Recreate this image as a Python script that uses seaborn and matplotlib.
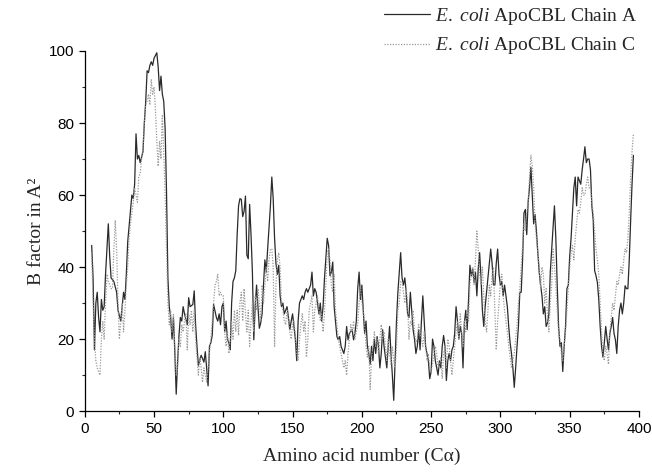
import matplotlib
matplotlib.use("Agg")
import matplotlib.pyplot as plt
from matplotlib.ticker import MultipleLocator
import seaborn as sns
import pandas as pd

# Chain A (solid)
res_a = [5, 6, 7, 8, 9, 10, 11, 12, 13, 14, 15, 17, 18, 19, 21, 23, 24, 26, 28, 29,
         30, 31, 34, 35, 36, 37, 38, 39, 40, 42, 43, 44, 45, 46, 47, 48, 49, 50, 52, 53,
         54, 55, 56, 57, 58, 59, 60, 61, 62, 63, 64, 65, 66, 67, 68, 69, 70, 71, 72, 74,
         75, 76, 78, 79, 80, 81, 82, 84, 85, 86, 87, 89, 90, 91, 92, 93, 95, 96, 97, 98,
         99, 100, 101, 102, 103, 104, 105, 106, 107, 108, 109, 110, 111, 112, 113, 114, 115, 116, 117, 118,
         119, 120, 121, 122, 123, 124, 125, 126, 127, 128, 129, 130, 131, 132, 134, 135, 136, 137, 138, 139,
         140, 141, 142, 143, 144, 146, 147, 148, 149, 150, 152, 153, 154, 155, 157, 158, 159, 160, 161, 163,
         164, 165, 166, 167, 169, 170, 171, 172, 173, 175, 176, 177, 178, 179, 180, 181, 182, 183, 184, 185,
         187, 188, 189, 190, 191, 193, 194, 195, 196, 197, 198, 199, 200, 201, 202, 203, 204, 205, 206, 207,
         208, 209, 210, 211, 212, 213, 214, 215, 216, 217, 218, 219, 220, 221, 222, 223, 224, 225, 226, 227,
         228, 229, 230, 231, 232, 233, 234, 235, 236, 237, 238, 239, 240, 241, 242, 243, 244, 245, 246, 247,
         248, 249, 250, 251, 252, 253, 254, 255, 256, 257, 258, 259, 260, 261, 262, 263, 264, 265, 266, 267,
         268, 269, 270, 271, 272, 273, 274, 275, 276, 277, 278, 279, 280, 281, 282, 283, 284, 285, 286, 287,
         288, 289, 290, 291, 292, 293, 294, 295, 296, 297, 298, 299, 300, 301, 302, 303, 304, 305, 306, 307,
         308, 309, 310, 311, 312, 313, 314, 315, 316, 317, 318, 319, 320, 321, 322, 323, 324, 325, 326, 327,
         328, 329, 330, 331, 332, 333, 334, 335, 336, 337, 338, 339, 340, 341, 342, 343, 344, 345, 346, 347,
         348, 349, 350, 351, 352, 353, 354, 355, 356, 357, 358, 359, 360, 361, 362, 363, 364, 365, 366, 367,
         368, 369, 370, 371, 372, 373, 374, 375, 376, 377, 378, 379, 380, 381, 382, 383, 384, 385, 386, 387,
         388, 389, 390, 391, 392, 393, 394, 395, 396]
b_a = [46, 37, 17, 30, 33, 26, 22, 31, 28, 29, 38, 52, 43, 37, 36, 33, 28, 25, 33, 31,
       38, 47, 60, 59, 63, 77, 70, 71, 69, 72, 80, 86, 94.5, 94, 96, 97, 96, 98, 99.5, 95.5,
       89, 93, 88, 86, 78.5, 61, 37, 29, 26, 20, 26, 16.5, 4.7, 13.6, 21, 26, 25, 29, 27, 24,
       31.5, 29, 29.6, 33.4, 24, 18, 12.7, 15.5, 14.6, 13.6, 16.5, 7, 18, 19, 21, 29.6, 26, 25, 27, 24,
       29, 30, 22, 25, 20, 19, 17, 30, 36, 37, 39, 49, 57, 59, 58.8, 54, 55.5, 59.7, 43.3, 42.3,
       57.4, 49, 38.6, 19.8, 29, 35, 29, 23, 24.5, 27, 35, 42, 38.6, 45, 57, 65, 59, 48, 41, 38,
       40.5, 32, 29, 30, 27, 29, 26, 22.6, 25, 27, 20, 14, 25, 30, 32, 31, 33, 34, 33, 35,
       38.6, 32, 34, 33, 27, 30, 25, 29, 36.7, 48, 46, 37.6, 38.6, 41.4, 29, 25, 20.7, 19.8, 20.7, 18,
       16, 18, 23.5, 19.8, 21.6, 22.6, 19.8, 21.6, 25, 34, 38.6, 31, 35, 28, 21.6, 25, 18, 16, 13, 18,
       14, 20, 16, 20.7, 18, 12, 16, 22.6, 18, 15, 12, 18, 23.5, 16, 10, 3, 14, 25, 33, 38.6,
       44, 37, 35, 37, 33, 27, 26, 33, 28, 22.6, 20, 16, 18, 22.6, 17, 25, 32, 25, 18, 16,
       14, 9, 11, 20, 18, 14, 12, 10, 14, 12, 18, 21, 18, 8.5, 14, 16, 14, 17, 18, 21.6,
       29, 25, 20, 23.5, 21.6, 12, 24.5, 28, 22.6, 31, 40.5, 37.6, 39.5, 35.7, 38.6, 32, 39.5, 44, 37, 28,
       23.5, 29, 33, 37, 41, 45, 41, 35, 35, 41, 45, 38, 35, 36, 32, 35, 32, 29, 23.5, 19,
       16, 12, 6.6, 12, 18, 23.5, 33, 33, 42, 55, 56, 49, 58, 62, 67.7, 60, 52, 54.6, 50, 44,
       38.6, 35, 32, 27, 29, 23.5, 24.5, 27, 38.6, 45, 51, 57, 48, 35, 23.5, 18, 19, 11, 18, 23.5,
       34, 35, 43, 48, 55, 62, 65, 57, 65, 64, 63, 67, 70, 73.4, 69, 70, 70, 67, 57, 53,
       39, 37.6, 35.7, 31, 23.5, 18, 15, 19, 23.5, 20, 17, 21.6, 23.5, 26, 21.6, 19.8, 16, 23.5, 28, 30,
       27, 30, 34.8, 34, 34, 42, 53, 63, 71]

# Chain C (dotted)
res_c = list(range(5, 397))
b_c = [44, 30, 20, 14, 12, 11, 10, 20, 25, 20, 30, 38, 36, 35, 34, 34, 45, 53, 45, 30,
       20, 25, 30, 22, 28, 35, 40, 48, 52, 55, 58, 62, 60, 58, 65, 66, 70, 73, 80, 85,
       86, 88, 85, 92, 88, 90, 84, 75, 68, 75, 70, 82, 72, 60, 45, 30, 24, 28, 22, 27,
       18, 10, 12, 20, 18, 24, 22, 25, 27, 17, 27, 24, 28, 22, 28, 20, 15, 10, 15, 12,
       8, 12, 10, 8, 12, 16, 20, 25, 30, 35, 36, 38, 32, 33, 32, 32, 22, 18, 22, 16,
       20, 25, 20, 28, 22, 28, 21, 30, 33, 25, 34, 27, 22, 28, 18, 25, 30, 22, 32, 28,
       34, 30, 25, 35, 30, 35, 40, 36, 42, 45, 45, 40, 18, 35, 42, 44, 40, 30, 28, 25,
       24, 28, 25, 22, 20, 24, 25, 21, 16, 14, 20, 24, 27, 22, 25, 15, 20, 28, 30, 32,
       22, 28, 30, 32, 28, 25, 27, 22, 27, 35, 44, 45, 42, 35, 33, 38, 28, 24, 20, 18,
       16, 14, 12, 14, 10, 16, 20, 24, 22, 25, 20, 22, 24, 30, 35, 30, 28, 24, 18, 15,
       18, 6, 15, 18, 22, 18, 20, 16, 20, 24, 20, 22, 18, 14, 20, 16, 13, 18, 14, 12,
       18, 28, 30, 36, 36, 33, 30, 34, 30, 20, 25, 24, 28, 22, 19, 20, 24, 22, 20, 18,
       22, 18, 14, 16, 12, 11, 13, 16, 18, 16, 12, 13, 15, 9, 16, 18, 12, 20, 18, 14,
       10, 14, 18, 22, 25, 20, 27, 22, 18, 25, 22, 28, 25, 35, 38, 40, 35, 42, 50, 45,
       38, 35, 40, 32, 25, 22, 28, 35, 32, 38, 40, 28, 17, 25, 30, 36, 38, 32, 28, 25,
       22, 18, 15, 12, 14, 16, 20, 24, 30, 34, 40, 46, 52, 50, 55, 58, 65, 71, 68, 62,
       52, 48, 44, 40, 34, 40, 38, 30, 34, 26, 22, 30, 35, 45, 40, 35, 28, 22, 20, 16,
       14, 18, 22, 28, 34, 40, 44, 46, 42, 48, 52, 56, 55, 58, 62, 60, 60, 63, 65, 62,
       62, 58, 55, 50, 45, 42, 38, 30, 22, 16, 14, 18, 16, 13, 22, 26, 30, 28, 32, 36,
       35, 38, 40, 38, 42, 45, 44, 48, 55, 65, 72, 77]

labels = [r"$\mathit{E.\ coli}$ ApoCBL Chain A", r"$\mathit{E.\ coli}$ ApoCBL Chain C"]

sns.set_style("ticks")
plt.rcParams["font.family"] = ["Liberation Sans", "DejaVu Sans"]
plt.rcParams["mathtext.fontset"] = "custom"
plt.rcParams["mathtext.rm"] = "Liberation Serif"
plt.rcParams["mathtext.it"] = "Liberation Serif:italic"
plt.rcParams["mathtext.bf"] = "Liberation Serif:bold"

fig = plt.figure(figsize=(6.52, 4.72), dpi=100)
ax = fig.add_axes([0.130, 0.129, 0.850, 0.763])

df_a = pd.DataFrame({"res": res_a, "b": b_a})
df_c = pd.DataFrame({"res": res_c[:len(b_c)], "b": b_c})

sns.lineplot(data=df_a, x="res", y="b", ax=ax, color="#2a2a2a", lw=0.9,
             label="A", estimator=None)
sns.lineplot(data=df_c, x="res", y="b", ax=ax, color="#9a9a9a", lw=0.9,
             linestyle=(0, (1, 1.2)), label="C", estimator=None)

ax.set_xlim(0, 400)
ax.set_ylim(0, 100)
ax.xaxis.set_major_locator(MultipleLocator(50))
ax.xaxis.set_minor_locator(MultipleLocator(25))
ax.yaxis.set_major_locator(MultipleLocator(20))
ax.yaxis.set_minor_locator(MultipleLocator(10))
ax.tick_params(which="major", direction="out", length=4, width=0.9, labelsize=11, colors="black")
ax.tick_params(which="minor", direction="out", length=2.5, width=0.8)
for s in ["top", "right"]:
    ax.spines[s].set_visible(False)
for s in ["left", "bottom"]:
    ax.spines[s].set_linewidth(0.9)
    ax.spines[s].set_color("black")

ax.set_xlabel("Amino acid number (Cα)", family="Liberation Serif", fontsize=14, labelpad=9)
ax.set_ylabel("B factor in A²", family="Liberation Serif", fontsize=14, labelpad=3)

handles, _ = ax.get_legend_handles_labels()
leg = ax.legend(handles, labels,
                loc="upper right", bbox_to_anchor=(1.005, 1.025), bbox_transform=fig.transFigure,
                frameon=False, prop={"family": "Liberation Serif", "size": 14},
                handlelength=2.4, handletextpad=0.25, labelspacing=0.45)

fig.savefig("out.png", dpi=100)
